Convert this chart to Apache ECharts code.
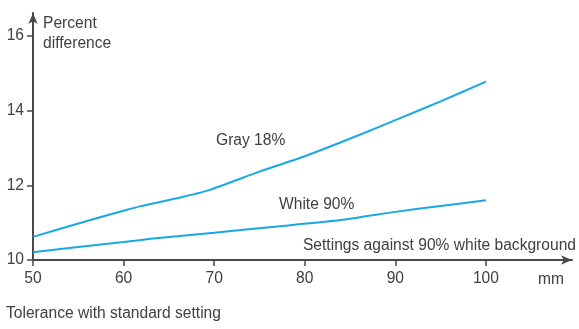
<!DOCTYPE html>
<html>
<head>
<meta charset="utf-8">
<script src="https://cdn.jsdelivr.net/npm/echarts@6/dist/echarts.min.js"></script>
<style>
html,body{margin:0;padding:0;background:#fff;}
#c{width:579px;height:329px;}
</style>
</head>
<body>
<div id="c"></div>
<script>
// Data
const xTicks = [50, 60, 70, 80, 90, 100];
const yTicks = [10, 12, 14, 16];
const grayX = [50, 55, 60, 62, 66, 69.5, 75, 80, 86, 90, 95, 100];
const grayY = [10.62, 10.98, 11.32, 11.45, 11.66, 11.88, 12.37, 12.78, 13.35, 13.75, 14.25, 14.78];
const whiteX = [50, 55, 60, 63, 70, 77, 84, 90, 95, 100];
const whiteY = [10.21, 10.35, 10.48, 10.57, 10.73, 10.9, 11.07, 11.29, 11.45, 11.6];
const seriesNames = ['Gray 18%', 'White 90%'];

const FONT = 'Liberation Sans, Arial, sans-serif';
const TXT = '#404040';
const AX = '#4a4a4a';
const BLUE = '#1aa8e4';
const FS = 15.6;

const chart = echarts.init(document.getElementById('c'), null, {renderer: 'canvas'});

function pair(xs, ys) { return xs.map((x, i) => [x, ys[i]]); }

function txt(text, x, y, align) {
  return {
    type: 'text', x: x, y: y,
    style: {text: text, fill: TXT, font: FS + 'px ' + FONT, align: align || 'left', verticalAlign: 'middle'}
  };
}

chart.setOption({
  animation: false,
  grid: {left: 33, right: 7, top: 13, bottom: 69, containLabel: false},
  xAxis: {
    type: 'value', min: 50, max: 109.5, interval: 10,
    splitLine: {show: false},
    axisLine: {show: true, lineStyle: {color: AX, width: 2}, symbol: ['none', 'arrow'], symbolSize: [7, 11]},
    axisTick: {show: true, length: 6, lineStyle: {color: AX, width: 1.5}, customValues: xTicks},
    axisLabel: {color: TXT, fontSize: FS, fontFamily: FONT, margin: 11, customValues: xTicks}
  },
  yAxis: {
    type: 'value', min: 10, max: 16.62, interval: 2,
    splitLine: {show: false},
    axisLine: {show: true, lineStyle: {color: AX, width: 2}, symbol: ['none', 'arrow'], symbolSize: [7, 11]},
    axisTick: {show: true, length: 6, lineStyle: {color: AX, width: 1.5}, customValues: yTicks},
    axisLabel: {color: TXT, fontSize: FS, fontFamily: FONT, margin: 9, customValues: yTicks}
  },
  series: [
    {name: seriesNames[0], type: 'line', data: pair(grayX, grayY), smooth: 0.15, showSymbol: false,
     lineStyle: {color: BLUE, width: 2}},
    {name: seriesNames[1], type: 'line', data: pair(whiteX, whiteY), smooth: 0.15, showSymbol: false,
     lineStyle: {color: BLUE, width: 2}}
  ],
  graphic: [
    txt('Percent', 43, 24),
    txt('difference', 43, 44),
    txt(seriesNames[0], 216, 141),
    txt(seriesNames[1], 279, 205),
    txt('Settings against 90% white background', 576, 246, 'right'),
    txt('mm', 551, 280, 'center'),
    txt('Tolerance with standard setting', 6, 314)
  ]
});
</script>
</body>
</html>
